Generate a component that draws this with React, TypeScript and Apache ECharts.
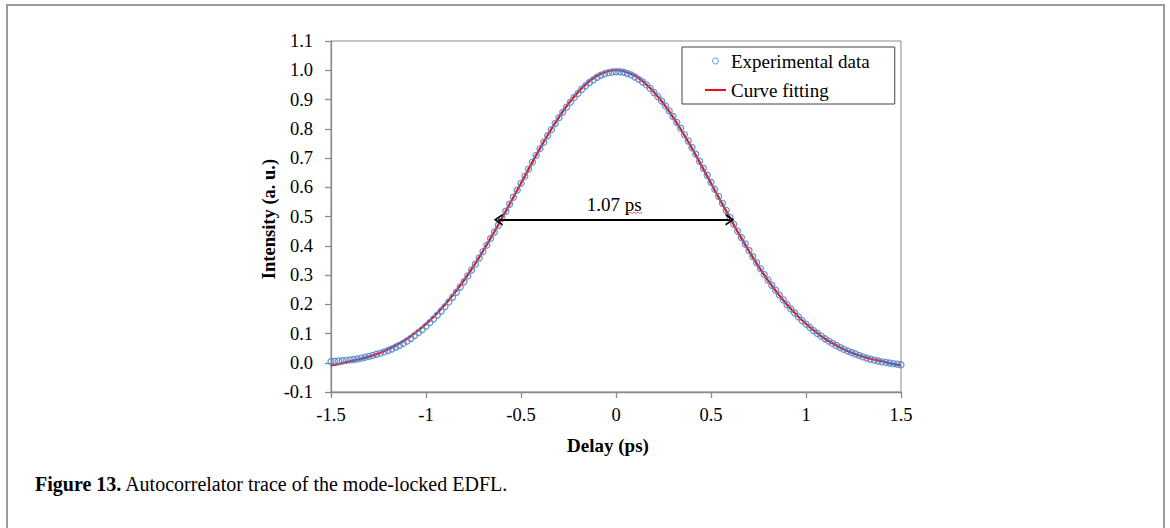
import React from "react";
import * as echarts from "echarts";

// measured autocorrelation trace: [delay (ps), intensity (a. u.)]
const experimental: [number, number][] = [
  [-1.50, 0.004], [-1.48, 0.005], [-1.46, 0.006], [-1.44, 0.007], [-1.42, 0.008], [-1.40, 0.010], [-1.38, 0.011], [-1.36, 0.013], [-1.34, 0.016], [-1.32, 0.019],
  [-1.30, 0.022], [-1.28, 0.025], [-1.26, 0.029], [-1.24, 0.033], [-1.22, 0.037], [-1.20, 0.042], [-1.18, 0.047], [-1.16, 0.053], [-1.14, 0.059], [-1.12, 0.066],
  [-1.10, 0.074], [-1.08, 0.083], [-1.06, 0.093], [-1.04, 0.103], [-1.02, 0.113], [-1.00, 0.125], [-0.98, 0.137], [-0.96, 0.150], [-0.94, 0.163], [-0.92, 0.177],
  [-0.90, 0.192], [-0.88, 0.208], [-0.86, 0.224], [-0.84, 0.241], [-0.82, 0.259], [-0.80, 0.277], [-0.78, 0.297], [-0.76, 0.317], [-0.74, 0.337], [-0.72, 0.358],
  [-0.70, 0.380], [-0.68, 0.402], [-0.66, 0.425], [-0.64, 0.447], [-0.62, 0.470], [-0.60, 0.494], [-0.58, 0.518], [-0.56, 0.542], [-0.54, 0.566], [-0.52, 0.590],
  [-0.50, 0.614], [-0.48, 0.638], [-0.46, 0.662], [-0.44, 0.686], [-0.42, 0.709], [-0.40, 0.732], [-0.38, 0.754], [-0.36, 0.776], [-0.34, 0.797], [-0.32, 0.818],
  [-0.30, 0.838], [-0.28, 0.857], [-0.26, 0.874], [-0.24, 0.891], [-0.22, 0.907], [-0.20, 0.921], [-0.18, 0.935], [-0.16, 0.947], [-0.14, 0.958], [-0.12, 0.967],
  [-0.10, 0.976], [-0.08, 0.983], [-0.06, 0.988], [-0.04, 0.992], [-0.02, 0.994], [0.00, 0.995],
  [0.02, 0.995], [0.04, 0.993], [0.06, 0.989], [0.08, 0.984], [0.10, 0.977], [0.12, 0.969], [0.14, 0.960], [0.16, 0.950], [0.18, 0.938], [0.20, 0.924],
  [0.22, 0.910], [0.24, 0.895], [0.26, 0.878], [0.28, 0.861], [0.30, 0.842], [0.32, 0.822], [0.34, 0.802], [0.36, 0.780], [0.38, 0.758], [0.40, 0.736],
  [0.42, 0.713], [0.44, 0.689], [0.46, 0.665], [0.48, 0.641], [0.50, 0.617], [0.52, 0.593], [0.54, 0.569], [0.56, 0.545], [0.58, 0.521], [0.60, 0.497],
  [0.62, 0.473], [0.64, 0.450], [0.66, 0.428], [0.68, 0.406], [0.70, 0.384], [0.72, 0.363], [0.74, 0.342], [0.76, 0.322], [0.78, 0.302], [0.80, 0.283],
  [0.82, 0.265], [0.84, 0.248], [0.86, 0.231], [0.88, 0.215], [0.90, 0.199], [0.92, 0.184], [0.94, 0.170], [0.96, 0.157], [0.98, 0.144], [1.00, 0.132],
  [1.02, 0.121], [1.04, 0.110], [1.06, 0.100], [1.08, 0.091], [1.10, 0.082], [1.12, 0.074], [1.14, 0.066], [1.16, 0.059], [1.18, 0.052], [1.20, 0.046],
  [1.22, 0.040], [1.24, 0.035], [1.26, 0.030], [1.28, 0.025], [1.30, 0.020], [1.32, 0.016], [1.34, 0.012], [1.36, 0.009], [1.38, 0.006], [1.40, 0.003],
  [1.42, 0.001], [1.44, -0.001], [1.46, -0.003], [1.48, -0.005], [1.50, -0.007],
];

// fitted curve
const fitDelay = [
  -1.5, -1.45, -1.4, -1.35, -1.3, -1.25, -1.2, -1.15, -1.1, -1.05, -1.0, -0.95, -0.9, -0.85, -0.8, -0.75,
  -0.7, -0.65, -0.6, -0.55, -0.5, -0.45, -0.4, -0.35, -0.3, -0.25, -0.2, -0.15, -0.1, -0.05, 0,
  0.05, 0.1, 0.15, 0.2, 0.25, 0.3, 0.35, 0.4, 0.45, 0.5, 0.55, 0.6, 0.65, 0.7, 0.75,
  0.8, 0.85, 0.9, 0.95, 1.0, 1.05, 1.1, 1.15, 1.2, 1.25, 1.3, 1.35, 1.4, 1.45, 1.5,
];
const fitIntensity = [
  -0.009, -0.003, 0.005, 0.012, 0.021, 0.032, 0.046, 0.063, 0.082, 0.106, 0.133, 0.164, 0.199, 0.238, 0.282, 0.330,
  0.382, 0.437, 0.495, 0.554, 0.614, 0.674, 0.733, 0.788, 0.840, 0.886, 0.925, 0.957, 0.981, 0.995, 1.0,
  0.995, 0.981, 0.957, 0.925, 0.886, 0.840, 0.788, 0.733, 0.674, 0.614, 0.554, 0.495, 0.437, 0.382, 0.330,
  0.282, 0.238, 0.199, 0.164, 0.133, 0.106, 0.082, 0.063, 0.046, 0.032, 0.021, 0.012, 0.005, -0.003, -0.009,
];

// FWHM arrow: [start delay, end delay, level]
const fwhmArrow = [-0.62, 0.6, 0.489];
const fwhmLabel = "1.07 ps";

const FONT = "'Liberation Serif', 'Times New Roman', serif";
const AXIS_GREY = "#8a8a8a";
const DOT_BLUE = "#4f84c9";
const FIT_RED = "#e8121c";
const CHEVRON = "path://M0,10 L6,0 L12,10 L10,10 L6,3.4 L2,10 Z";
const LINE_ICON = "path://M0,0 L20,0 L20,2 L0,2 Z";

export default function App() {
  const ref = React.useRef<HTMLDivElement>(null);

  React.useEffect(() => {
    if (!ref.current) return;
    const chart = echarts.init(ref.current, undefined, { renderer: "svg" });

    chart.setOption({
      animation: false,
      backgroundColor: "#fff",
      textStyle: { fontFamily: FONT, color: "#000" },
      grid: {
        left: 331, top: 41, width: 570, height: 351,
        show: true, borderColor: AXIS_GREY, borderWidth: 1, backgroundColor: "transparent",
      },
      legend: {
        left: 682, top: 47, orient: "vertical",
        padding: [4, 25, 4, 23], itemGap: 9,
        itemWidth: 21, itemHeight: 6,
        borderColor: "#444", borderWidth: 1,
        textStyle: { fontFamily: FONT, fontSize: 19, color: "#000", lineHeight: 20 },
        data: [
          { name: "Experimental data", icon: "circle", itemStyle: { color: "rgba(0,0,0,0)", borderColor: DOT_BLUE, borderWidth: 1 } },
          { name: "Curve fitting", icon: LINE_ICON, itemStyle: { color: FIT_RED, borderWidth: 0 } },
        ],
      },
      xAxis: {
        type: "value", min: -1.5, max: 1.5, interval: 0.5,
        axisLine: { onZero: false, lineStyle: { color: AXIS_GREY, width: 1.3 } },
        axisTick: { show: true, inside: false, length: 6, lineStyle: { color: AXIS_GREY, width: 1.3 } },
        axisLabel: { color: "#000", fontSize: 18.5, fontFamily: FONT, margin: 13, showMinLabel: true, showMaxLabel: true },
        splitLine: { show: false },
      },
      yAxis: {
        type: "value", min: -0.1, max: 1.1, interval: 0.1,
        axisLine: { show: true, onZero: false, lineStyle: { color: AXIS_GREY, width: 1.3 } },
        axisTick: { show: true, inside: false, length: 6, lineStyle: { color: AXIS_GREY, width: 1.3 } },
        axisLabel: {
          color: "#000", fontSize: 18.5, fontFamily: FONT, margin: 18,
          showMinLabel: true, showMaxLabel: true,
          formatter: (v: number) => v.toFixed(1),
        },
        splitLine: { show: false },
      },
      series: [
        {
          name: "Experimental data",
          type: "scatter",
          data: experimental,
          symbol: "circle",
          symbolSize: 6,
          z: 3,
          itemStyle: { color: "rgba(0,0,0,0)", borderColor: DOT_BLUE, borderWidth: 1.3, opacity: 0.85 },
          emphasis: { disabled: true },
        },
        {
          name: "Curve fitting",
          type: "line",
          data: fitDelay.map((d, i) => [d, fitIntensity[i]]),
          symbol: "none",
          smooth: true,
          z: 2,
          lineStyle: { color: FIT_RED, width: 2.2 },
          itemStyle: { color: FIT_RED },
          emphasis: { disabled: true },
          markLine: {
            silent: true,
            animation: false,
            symbol: [CHEVRON, CHEVRON],
            symbolSize: [12, 9],
            lineStyle: { color: "#000", width: 2, type: "solid" },
            label: {
              show: true, position: "middle", formatter: fwhmLabel,
              color: "#000", fontSize: 19, fontFamily: FONT, distance: 6,
            },
            data: [[
              { coord: [fwhmArrow[0], fwhmArrow[2]] },
              { coord: [fwhmArrow[1], fwhmArrow[2]] },
            ]],
          },
        },
      ],
      graphic: [
        {
          type: "polyline", silent: true,
          shape: { points: [[7, 540], [7, 5], [1164, 5], [1164, 540]] },
          style: { stroke: "#9a9a9a", lineWidth: 2, fill: "none" },
        },
        {
          type: "text", x: 269, y: 219, rotation: Math.PI / 2,
          style: {
            text: "Intensity (a. u.)", fontFamily: FONT, fontSize: 18.5, fontWeight: "bold",
            fill: "#000", align: "center", verticalAlign: "middle",
          },
        },
        {
          type: "text", x: 608, y: 445,
          style: {
            text: "Delay (ps)", fontFamily: FONT, fontSize: 19, fontWeight: "bold",
            fill: "#000", align: "center", verticalAlign: "middle",
          },
        },
        {
          type: "polyline", silent: true,
          shape: { points: [[626, 212], [628, 213.5], [630, 212], [632, 213.5], [634, 212], [636, 213.5], [638, 212], [640, 213.5], [642, 212]] },
          style: { stroke: "#e0404a", lineWidth: 0.8, fill: "none" },
        },
        {
          type: "text", x: 35, y: 484,
          style: {
            text: "{b|Figure 13.} Autocorrelator trace of the mode-locked EDFL.",
            fontFamily: FONT, fontSize: 20, fill: "#000", verticalAlign: "middle",
            rich: { b: { fontFamily: FONT, fontSize: 20, fontWeight: "bold", fill: "#000" } },
          },
        },
      ],
    });

    return () => { chart.dispose(); };
  }, []);

  return <div ref={ref} style={{ position: "absolute", left: 0, top: 0, width: 1170, height: 528 }} />;
}
